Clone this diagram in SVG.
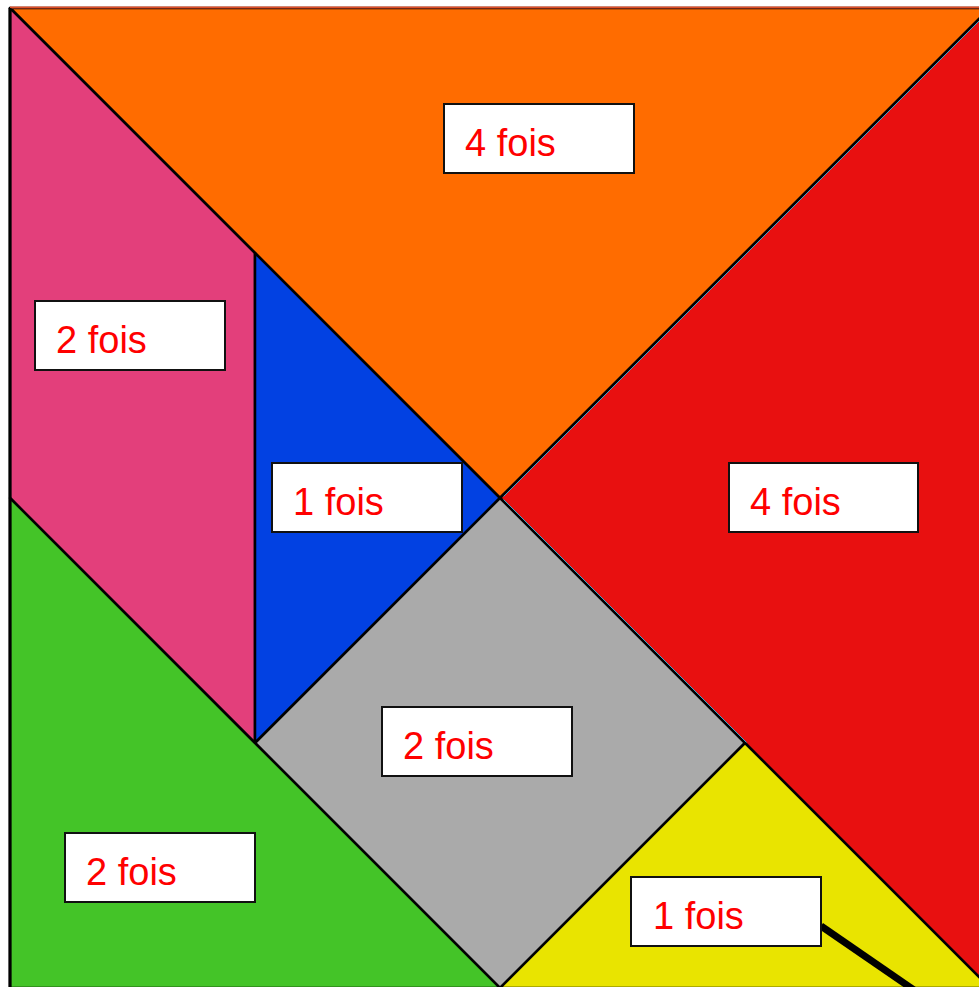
<svg xmlns="http://www.w3.org/2000/svg" width="979" height="987" viewBox="0 0 979 987">
<style>
.piece{stroke:#000;stroke-width:2.5;stroke-linejoin:round}
.box{fill:#fff;stroke:#111;stroke-width:2}
.lbl{font-family:"Liberation Sans",Arial,sans-serif;font-size:38px;fill:#ff0000}
</style>
<rect width="979" height="987" fill="#fff"/>
<g id="orange"><polygon class="piece" points="10,8 990,8 500,498" fill="#ff6c00"/></g>
<g id="red"><polygon class="piece" points="990,8 500,498 990,988" fill="#e81010"/></g>
<g id="pink"><polygon class="piece" points="10,8 255,253 255,743 10,498" fill="#e33f7b"/></g>
<g id="blue"><polygon class="piece" points="255,253 500,498 255,743" fill="#0241e2"/></g>
<g id="gray"><polygon class="piece" points="500,498 745,743 500,988 255,743" fill="#aaaaaa"/></g>
<g id="green"><polygon class="piece" points="10,498 255,743 500,988 10,988" fill="#44c428"/></g>
<g id="yellow"><polygon class="piece" points="745,743 990,988 500,988" fill="#e9e400"/></g>
<g id="edges" fill="none">
<line x1="10" y1="7.5" x2="979" y2="7.5" stroke="#e0502a" stroke-width="2"/>
<line x1="10" y1="8" x2="10" y2="987" stroke="#000" stroke-width="3"/>
<line x1="979.5" y1="20.5" x2="503.5" y2="496.5" stroke="#3aa0c8" stroke-width="1"/>
<line x1="503.5" y1="499.5" x2="746.5" y2="742.5" stroke="#3aa0c8" stroke-width="1"/>
</g>
<g id="connectors">
<line x1="821" y1="926" x2="914" y2="990" stroke="#000" stroke-width="7"/>
</g>
<g id="label-orange"><rect class="box" x="444" y="104" width="190" height="69"/><text class="lbl" x="465" y="156">4 fois</text></g>
<g id="label-pink"><rect class="box" x="35" y="301" width="190" height="69"/><text class="lbl" x="56" y="353">2 fois</text></g>
<g id="label-blue"><rect class="box" x="272" y="463" width="190" height="69"/><text class="lbl" x="293" y="515">1 fois</text></g>
<g id="label-red"><rect class="box" x="729" y="463" width="189" height="69"/><text class="lbl" x="750" y="515">4 fois</text></g>
<g id="label-gray"><rect class="box" x="382" y="707" width="190" height="69"/><text class="lbl" x="403" y="759">2 fois</text></g>
<g id="label-green"><rect class="box" x="65" y="833" width="190" height="69"/><text class="lbl" x="86" y="885">2 fois</text></g>
<g id="label-yellow"><rect class="box" x="631" y="877" width="190" height="69"/><text class="lbl" x="653" y="929">1 fois</text></g>
</svg>
